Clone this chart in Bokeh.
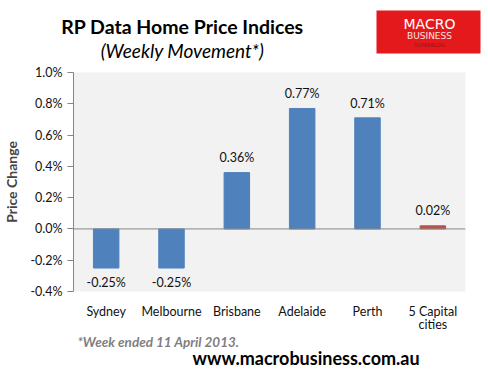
from bokeh.plotting import figure
from bokeh.models import (ColumnDataSource, Span, PrintfTickFormatter, FixedTicker, Range1d,
                          Title)
from bokeh.layouts import column
from bokeh.core.properties import value
from bokeh.embed import file_html
from bokeh.resources import INLINE

cities = ["Sydney", "Melbourne", "Brisbane", "Adelaide", "Perth", "5 Capital\ncities"]
changes = [-0.25, -0.25, 0.36, 0.77, 0.71, 0.02]
colors = ["#4f81bd", "#4f81bd", "#4f81bd", "#4f81bd", "#4f81bd", "#c0504d"]
labels = ["-0.25%", "-0.25%", "0.36%", "0.77%", "0.71%", "0.02%"]
y_ticks = [-0.4, -0.2, 0.0, 0.2, 0.4, 0.6, 0.8, 1.0]

FONT = "Lato"
W = 488
TOP_H = 62
CHART_H = 378 - TOP_H


def txt(f, s, x, y, size, style="normal", color="black", align="left", font=FONT):
    f.text(x=[x], y=[y], text=[s], text_font=value(font), text_font_size=size,
           text_font_style=style, text_color=color, text_align=align,
           text_baseline="middle")


# ---- header ----
top = figure(width=W, height=TOP_H, x_range=Range1d(0, W), y_range=Range1d(TOP_H, 0),
             output_backend="svg", toolbar_location=None,
             x_axis_location=None, y_axis_location=None, frame_align=False,
             min_border=0, min_border_left=0, min_border_right=0,
             min_border_top=0, min_border_bottom=0)
top.grid.visible = False
top.outline_line_color = None
txt(top, "RP Data Home Price Indices", 182, 26, "19.5px", "bold", "black", "center")
txt(top, "(Weekly Movement*)", 182, 50, "19px", "italic", "black", "center")
top.quad(left=[376], right=[480], top=[10], bottom=[53], fill_color="#e3191c", line_color=None)
txt(top, "MACRO", 429, 23, "14px", "normal", "white", "center", "DejaVu Sans")
txt(top, "BUSINESS", 429, 35, "9px", "normal", "#fbe3e3", "center", "DejaVu Sans")
txt(top, "SUPERBLOG", 429, 44, "5px", "normal", "#9e1215", "center", "DejaVu Sans")

# ---- chart ----
lab_y = [v + (0.095 if v >= 0 else -0.09) for v in changes]
src = ColumnDataSource(dict(city=cities, change=changes, color=colors, label=labels, lab_y=lab_y))

p = figure(x_range=cities, y_range=Range1d(-0.4, 1.0), width=W, height=CHART_H,
           output_backend="svg", toolbar_location=None, frame_align=False,
           min_border_left=68, min_border_right=23, min_border_top=10,
           min_border_bottom=CHART_H - 10 - 219)
p.background_fill_color = "#f2f2f2"
p.border_fill_color = "white"
p.outline_line_color = None
p.grid.visible = False

p.vbar(x="city", top="change", bottom=0, width=0.39, color="color", source=src)
p.add_layout(Span(location=0, dimension="width", line_color="#868686", line_width=1))
p.text(x="city", y="lab_y", text="label", source=src, text_align="center",
       text_baseline="middle", text_font=value(FONT), text_font_size="12.5px",
       text_color="#111111")

ya = p.yaxis[0]
ya.ticker = FixedTicker(ticks=y_ticks)
ya.formatter = PrintfTickFormatter(format="%.1f%%")
ya.major_label_text_font = FONT
ya.major_label_text_font_size = "12.5px"
ya.major_label_text_color = "#111111"
ya.axis_line_color = "#868686"
ya.major_tick_line_color = "#868686"
ya.major_tick_out = 6
ya.major_tick_in = 0
ya.minor_tick_line_color = None
ya.axis_label = "Price Change"
ya.axis_label_text_font = FONT
ya.axis_label_text_font_style = "bold"
ya.axis_label_text_font_size = "14px"
ya.axis_label_standoff = 7

xa = p.xaxis[0]
xa.axis_line_color = None
xa.major_tick_line_color = None
xa.minor_tick_line_color = None
xa.major_label_text_font = FONT
xa.major_label_text_font_size = "12.5px"
xa.major_label_text_color = "#111111"
xa.major_label_text_line_height = 0.9
xa.major_label_standoff = 6

p.add_layout(Title(text="*Week ended 11 April 2013.", align="left", offset=4,
                   text_font=FONT, text_font_size="13.5px", text_font_style="bold italic",
                   text_color="#7f7f7f", standoff=-7), "below")
p.add_layout(Title(text="www.macrobusiness.com.au", align="left", offset=119,
                   text_font=FONT, text_font_size="18px", text_font_style="bold",
                   text_color="black", standoff=-4), "below")

layout = column(top, p, spacing=0)
out = file_html(layout, INLINE)
open("out.html", "w").write(out)
